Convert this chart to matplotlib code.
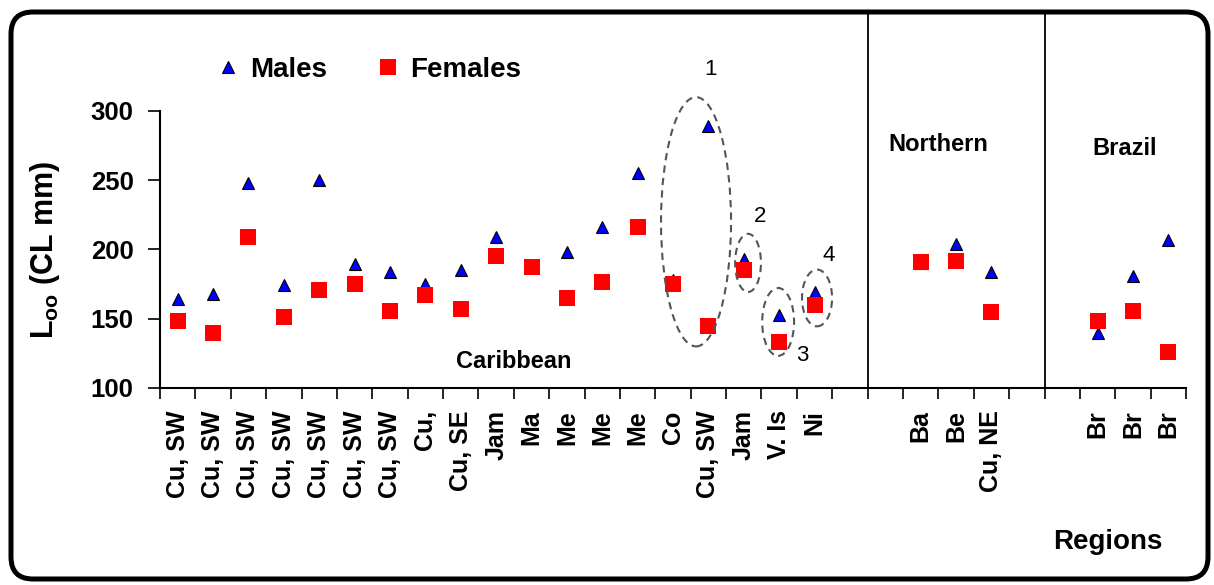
import numpy as np
import matplotlib
matplotlib.use("Agg")
import matplotlib.pyplot as plt
from matplotlib.patches import Ellipse, FancyBboxPatch
from matplotlib.transforms import IdentityTransform
from matplotlib.lines import Line2D

plt.rcParams['font.family'] = ['Liberation Sans', 'DejaVu Sans']

# x categories (empty slots are gaps between regions)
labels = ["Cu, SW"] * 7 + ["Cu,", "Cu, SE", "Jam", "Ma", "Me", "Me", "Me", "Co",
                           "Cu, SW", "Jam", "V. Is", "Ni", "", "",
                           "Ba", "Be", "Cu, NE", "", "", "Br", "Br", "Br"]
nan = np.nan
males = [164, 168, 248, 174, 250, 189.5, 184, 175, 185, 209, 189, 198, 216.5,
         255, 178, 289.5, 193, 153, 169, nan, nan, 190, 204, 184, nan, nan,
         140, 181, 206.5]
females = [148.5, 140, 209, 151.5, 171, 175, 155.5, 167, 157, 195, 187.5, 165,
           176.5, 216, 175, 144.5, 185, 133, 160, nan, nan, 191, 192, 154.5,
           nan, nan, 148.5, 155.5, 126]
region_names = ["Caribbean", "Northern", "Brazil"]
yticks = [100, 150, 200, 250, 300]

fig = plt.figure(figsize=(12.14, 5.85), dpi=100)
ax = fig.add_axes([0.1318, 0.3368, 0.977 - 0.1318, 0.8103 - 0.3368])

x = np.arange(len(labels))
ax.plot(x, males, ls='none', marker='^', ms=9, mfc='#0000ff', mec='black',
        mew=0.8, zorder=3)
ax.plot(x, females, ls='none', marker='s', ms=11, mfc='#ff0000', mec='#ff0000',
        mew=0, zorder=4)

ax.set_xlim(-0.5, len(labels) - 0.5)
ax.set_ylim(100, 300)
ax.set_yticks(yticks)
ax.set_xticks(x)
ax.set_xticklabels(labels, rotation=90, fontsize=18, fontweight='bold')
ax.set_xticks(np.arange(-0.5, len(labels)), minor=True)
ax.tick_params(axis='x', which='major', length=0, pad=16)
ax.tick_params(axis='x', which='minor', length=8, width=1.2, direction='out')
ax.tick_params(axis='y', length=9, width=1.2, pad=10, labelsize=18.5)
for t in ax.get_yticklabels():
    t.set_fontweight('bold')

for s in ['top', 'right']:
    ax.spines[s].set_visible(False)
for s in ['left', 'bottom']:
    ax.spines[s].set_linewidth(1.5)

ax.set_ylabel(r"L$_{\mathregular{oo}}$ (CL mm)", fontsize=22, fontweight='bold')
ax.yaxis.set_label_coords(-0.096, 0.5)

# region separators
ax.vlines([19.5, 24.5], 100, 371, color='black', lw=1.3, clip_on=False)

# region names
ax.text(9.5, 119, region_names[0], ha='center', va='center', fontsize=17, fontweight='bold')
ax.text(21.5, 276, region_names[1], ha='center', va='center', fontsize=17, fontweight='bold')
ax.text(26.75, 273, region_names[2], ha='center', va='center', fontsize=17, fontweight='bold')

# dashed ellipses and numbers
ells = [(14.65, 220, 1.98, 180), (16.12, 190.3, 0.73, 42),
        (16.97, 147.7, 0.9, 49), (18.07, 165, 0.85, 41)]
for cx, cy, w, h in ells:
    ax.add_patch(Ellipse((cx, cy), w, h, fill=False, ls=(0, (3.5, 2.5)),
                         ec='#555555', lw=1.5, clip_on=False, zorder=5))
nums = [("1", 15.07, 329.6), ("2", 16.46, 223.5), ("3", 17.65, 123.8), ("4", 18.4, 196)]
for n, nx, ny in nums:
    ax.text(nx, ny, n, ha='center', va='center', fontsize=16, clip_on=False)

# legend
h1 = Line2D([], [], ls='none', marker='^', ms=9, mfc='#0000ff', mec='black', mew=0.8)
h2 = Line2D([], [], ls='none', marker='s', ms=11, mfc='#ff0000', mec='#ff0000', mew=0)
fig.legend([h1, h2], ["Males", "Females"], loc='center', ncol=2,
           bbox_to_anchor=(0.304, 0.880), frameon=False, handlelength=0.8,
           handletextpad=0.4, columnspacing=1.8,
           prop={'size': 20, 'weight': 'bold'})

fig.text(1108 / 1214, 1 - 542 / 585, "Regions", ha='center', va='center',
         fontsize=20, fontweight='bold')

# rounded outer frame
frame = FancyBboxPatch((11, 6), 1197, 567, boxstyle="round,pad=0,rounding_size=22",
                       transform=IdentityTransform(), fill=False, ec='black', lw=3.6)
fig.add_artist(frame)

fig.savefig("out.png", dpi=100)
